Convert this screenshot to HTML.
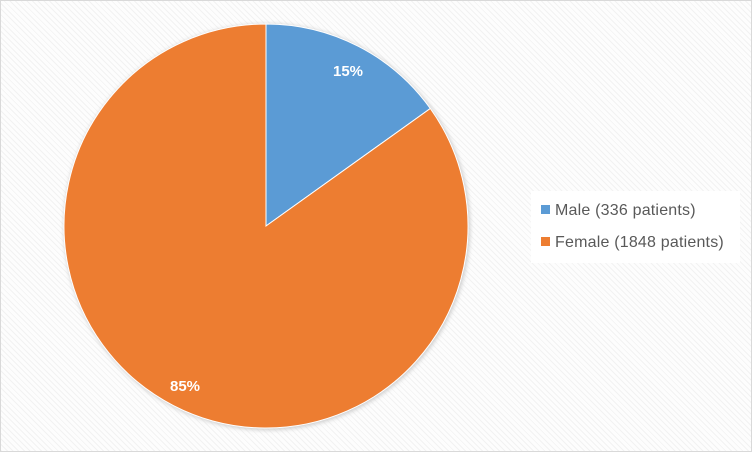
<!DOCTYPE html>
<html><head><style>
html,body{margin:0;padding:0;background:#fff}
.c{position:relative;width:750px;height:450px;border:1px solid #d9d9d9;background:#f8f8f8;
background-image:repeating-linear-gradient(45deg,#f2f2f2 0 1px,#fdfdfd 1px 4px);overflow:hidden}
.leg{position:absolute;left:530px;top:190px;width:209px;height:72px;background:#fff;font-family:"Liberation Sans",sans-serif;font-size:16px;color:#595959}
.leg div{position:absolute;left:10px;white-space:nowrap;letter-spacing:0.2px}
.leg span{display:inline-block;width:9px;height:9px;margin-right:5px;vertical-align:1px}
</style></head><body>
<div class="c">
<svg width="750" height="450" style="position:absolute;left:0;top:0">
<defs><filter id="s" x="-10%" y="-10%" width="120%" height="120%"><feGaussianBlur stdDeviation="2"/></filter></defs>
<circle cx="266" cy="226" r="203" fill="#ccc" filter="url(#s)"/>
<path d="M265,225 L265,23 A202,202 0 0,1 429.3,107.5 Z" fill="#5b9bd5" stroke="#fff" stroke-width="1"/>
<path d="M265,225 L429.3,107.5 A202,202 0 1,1 265,23 Z" fill="#ed7d31" stroke="#fff" stroke-width="1"/>
<text x="347" y="75" font-family="Liberation Sans,sans-serif" font-size="15" font-weight="bold" fill="#fff" text-anchor="middle">15%</text>
<text x="184" y="390" font-family="Liberation Sans,sans-serif" font-size="15" font-weight="bold" fill="#fff" text-anchor="middle">85%</text>
</svg>
<div class="leg">
<div style="top:11px"><span style="background:#5b9bd5"></span>Male (336 patients)</div>
<div style="top:43px"><span style="background:#ed7d31"></span>Female (1848 patients)</div>
</div>
</div>
</body></html>
